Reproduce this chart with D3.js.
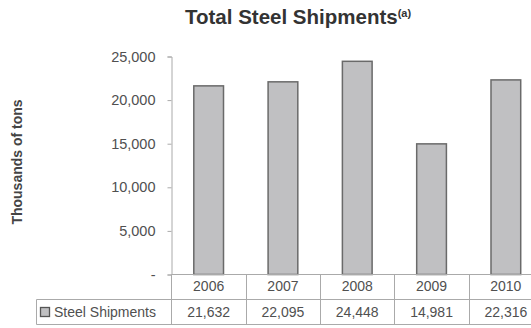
<!DOCTYPE html>
<html>
<head>
<meta charset="utf-8">
<script src="https://cdn.jsdelivr.net/npm/d3@7"></script>
<style>
  html, body { margin: 0; padding: 0; background: #fff; }
  svg { display: block; font-family: "Liberation Sans", Arial, Helvetica, sans-serif; }
</style>
</head>
<body>
<svg id="chart" width="531" height="328"></svg>
<script>
// Annual steel shipments, thousands of tons
const years = ["2006", "2007", "2008", "2009", "2010"];
const shipments = [21632, 22095, 24448, 14981, 22316];
const yTicks = [0, 5000, 10000, 15000, 20000, 25000];
const seriesName = "Steel Shipments";

const svg = d3.select("#chart");

const plotLeft = 171.5, plotRight = 543, plotTop = 56.5, plotBottom = 274.5;
const row1Bottom = 299.5, row2Bottom = 324.5, tableLeft = 36.5;
const textColor = "#505050";

// Column scale for the data table and bar scale for the bars
const xCols = d3.scaleBand().domain(years).range([plotLeft, plotRight]).padding(0);
const xBars = d3.scaleBand().domain(years).range([plotLeft, plotRight])
  .paddingInner(0.6).paddingOuter(0.3);
const y = d3.scaleLinear().domain([0, 25000]).range([plotBottom, plotTop]);

// Title
const title = svg.append("text")
  .attr("x", 185).attr("y", 24)
  .attr("font-size", 20.5).attr("font-weight", "bold").attr("fill", "#333");
title.append("tspan").text("Total Steel Shipments");
title.append("tspan").attr("font-size", 11).attr("dy", -7).text("(a)");

// Y axis title
svg.append("text")
  .attr("transform", "translate(22,162) rotate(-90)")
  .attr("text-anchor", "middle")
  .attr("font-size", 14).attr("font-weight", "bold").attr("fill", "#444")
  .text("Thousands of tons");

// Y axis
const fmt = d3.format(",");
const yAxis = d3.axisLeft(y)
  .tickValues(yTicks)
  .tickSize(4)
  .tickPadding(12)
  .tickFormat(d => d === 0 ? "-" : fmt(d));
const gy = svg.append("g").attr("transform", `translate(${plotLeft},0)`).call(yAxis);
gy.select(".domain").attr("stroke", "#aaa");
gy.selectAll(".tick line").attr("stroke", "#aaa");
gy.selectAll(".tick text").attr("font-size", 14.5).attr("fill", textColor)
  .attr("font-family", "\"Liberation Sans\", Arial, sans-serif");

// Bars
svg.append("g").selectAll("rect")
  .data(years.map((yr, i) => ({ yr, v: shipments[i] })))
  .join("rect")
  .attr("x", d => xBars(d.yr))
  .attr("y", d => y(d.v))
  .attr("width", xBars.bandwidth())
  .attr("height", d => y(0) - y(d.v))
  .attr("fill", "#c0c0c2")
  .attr("stroke", "#6a6a6a")
  .attr("stroke-width", 1.5);

// Data table grid
const grid = svg.append("g").attr("stroke", "#aaa").attr("stroke-width", 1).attr("fill", "none");
grid.append("line").attr("x1", plotLeft).attr("x2", plotRight).attr("y1", plotBottom).attr("y2", plotBottom);
grid.append("line").attr("x1", tableLeft).attr("x2", plotRight).attr("y1", row1Bottom).attr("y2", row1Bottom);
grid.append("line").attr("x1", tableLeft).attr("x2", plotRight).attr("y1", row2Bottom).attr("y2", row2Bottom);
grid.append("line").attr("x1", tableLeft).attr("x2", tableLeft).attr("y1", row1Bottom).attr("y2", row2Bottom);
grid.append("line").attr("x1", plotLeft).attr("x2", plotLeft).attr("y1", plotBottom).attr("y2", row2Bottom);
grid.selectAll("line.col")
  .data(years)
  .join("line").attr("class", "col")
  .attr("x1", d => Math.round(xCols(d) + xCols.bandwidth()) + 0.5)
  .attr("x2", d => Math.round(xCols(d) + xCols.bandwidth()) + 0.5)
  .attr("y1", plotBottom).attr("y2", row2Bottom);

// Year labels
svg.append("g").selectAll("text")
  .data(years).join("text")
  .attr("x", d => xCols(d) + xCols.bandwidth() / 2)
  .attr("y", 291)
  .attr("text-anchor", "middle")
  .attr("font-size", 14).attr("fill", textColor)
  .text(d => d);

// Value labels
svg.append("g").selectAll("text")
  .data(years.map((yr, i) => ({ yr, v: shipments[i] })))
  .join("text")
  .attr("x", d => xCols(d.yr) + xCols.bandwidth() / 2)
  .attr("y", 317)
  .attr("text-anchor", "middle")
  .attr("font-size", 14).attr("fill", textColor)
  .text(d => fmt(d.v));

// Legend key in the table
svg.append("rect")
  .attr("x", 40.5).attr("y", 307.5).attr("width", 9).attr("height", 9)
  .attr("fill", "#c0c0c2").attr("stroke", "#555").attr("stroke-width", 1.3);
svg.append("text")
  .attr("x", 54).attr("y", 317)
  .attr("font-size", 14).attr("fill", textColor)
  .text(seriesName);
</script>
</body>
</html>
